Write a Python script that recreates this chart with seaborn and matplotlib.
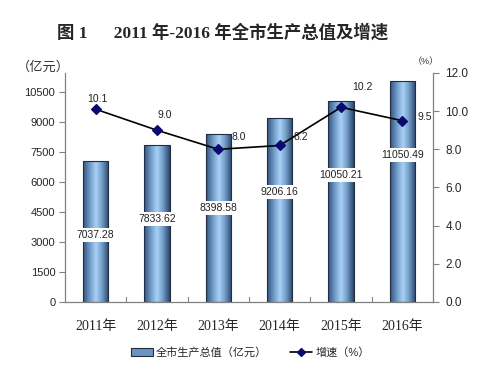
import numpy as np
import pandas as pd
import matplotlib
matplotlib.use('Agg')
import matplotlib.pyplot as plt
import seaborn as sns
from matplotlib.colors import LinearSegmentedColormap
from matplotlib.patches import Patch
from matplotlib.lines import Line2D

years = ['2011年', '2012年', '2013年', '2014年', '2015年', '2016年']
gdp = [7037.28, 7833.62, 8398.58, 9206.16, 10050.21, 11050.49]
growth = [10.1, 9.0, 8.0, 8.2, 10.2, 9.5]
left_ticks = [0, 1500, 3000, 4500, 6000, 7500, 9000, 10500]
right_ticks = [0.0, 2.0, 4.0, 6.0, 8.0, 10.0, 12.0]

# label offsets in pixels (dx, dy) for the growth labels
growth_offsets = [(2, 10), (8, 15), (20, 12), (21, 8), (21, 20), (22, 4)]

sns.set_style('white')
plt.rcParams['font.family'] = ['Liberation Sans', 'Noto Sans CJK SC']

df = pd.DataFrame({'year': years, 'gdp': gdp, 'growth': growth})

fig = plt.figure(figsize=(5.0, 3.83), dpi=100)
ax = fig.add_axes([0.13, 0.2115, 0.736, 0.598])

sns.barplot(data=df, x='year', y='gdp', ax=ax, width=0.41,
            color='#6d94bf', edgecolor='#1f2d45', linewidth=0.8, zorder=2)

# horizontal gradient in each bar
grad_cmap = LinearSegmentedColormap.from_list(
    'bar', ['#34557d', '#6e97c4', '#a9d2f7', '#6f98c4', '#2b4668'])
grad = np.linspace(0, 1, 64).reshape(1, -1)
for p in ax.patches:
    x0, y0 = p.get_x(), p.get_y()
    w, h = p.get_width(), p.get_height()
    im = ax.imshow(grad, cmap=grad_cmap, aspect='auto',
                   extent=[x0, x0 + w, y0, y0 + h], zorder=2.1)
    im.set_clip_path(p)
    p.set_facecolor('none')
    p.set_zorder(2.2)

ax.set_xlim(-0.5, 5.5)
ax.set_ylim(0, 11450)
ax.set_yticks(left_ticks)
ax.set_yticklabels([str(t) for t in left_ticks], fontsize=8)
ax.set_xlabel('')
ax.set_ylabel('')
ax.set_xticks(range(len(years)))
ax.set_xticklabels(years, fontsize=10, family=['Liberation Serif', 'Noto Sans CJK SC'])
ax.tick_params(axis='x', length=0, pad=13)
ax.tick_params(axis='y', length=4, color='#808080', direction='out', left=True, pad=3)
for b in np.arange(0.5, 5.5, 1.0):
    ax.plot([b, b], [0, 250], color='#808080', lw=0.8, zorder=1)

# bar value labels
for i, v in enumerate(gdp):
    ax.text(i, v - 3700, f'{v:.2f}', ha='center', va='center', fontsize=7.5,
            color='#222222', zorder=5,
            bbox=dict(facecolor='white', edgecolor='none', pad=1.5))

ax2 = ax.twinx()
sns.pointplot(data=df, x='year', y='growth', ax=ax2, color='black',
              markers='D', linewidth=1.2, markersize=5.5, zorder=4)
for line in ax2.lines:
    line.set_markerfacecolor('#0a0a6e')
    line.set_markeredgecolor('#0a0a6e')
ax2.set_ylim(0, 12)
ax2.set_yticks(right_ticks)
ax2.set_yticklabels([f'{t:.1f}' for t in right_ticks], fontsize=8.5)
ax2.set_ylabel('')
ax2.set_xlabel('')
ax2.tick_params(axis='y', length=4, color='#808080', direction='out', right=True, pad=5)
ax2.set_xlim(-0.5, 5.5)

for i, g in enumerate(growth):
    dx, dy = growth_offsets[i]
    ax2.annotate(f'{g:.1f}', (i, g), xytext=(dx * 0.72, dy * 0.72),
                 textcoords='offset points', ha='center', va='center',
                 fontsize=7.5, color='#222222', zorder=5)

for a in (ax, ax2):
    a.spines['top'].set_visible(False)
    for s in ('left', 'right', 'bottom'):
        a.spines[s].set_color('#808080')
        a.spines[s].set_linewidth(0.9)
ax.spines['right'].set_visible(False)
ax2.spines['left'].set_visible(False)
ax2.spines['bottom'].set_visible(False)

fig.text(0.114, 0.913, '图 1      2011 年-2016 年全市生产总值及增速', fontsize=12.5,
         fontweight='bold', family=['Liberation Serif', 'Noto Sans CJK SC'],
         ha='left', va='center')
fig.text(0.034, 0.825, '（亿元）', fontsize=9.5, ha='left', va='center', color='#333333')
fig.text(0.826, 0.838, '（%）', fontsize=6.5, ha='left', va='center', color='#333333')

handles = [Patch(facecolor='#6d94bf', edgecolor='#1f2d45', linewidth=0.8),
           Line2D([0], [0], color='black', lw=1.2, marker='D', markersize=4,
                  markerfacecolor='#0a0a6e', markeredgecolor='#0a0a6e')]
fig.legend(handles, ['全市生产总值（亿元）', '增速（%）'], loc='center',
           bbox_to_anchor=(0.5, 0.08), ncol=2, frameon=False, fontsize=8,
           handlelength=2.0, handleheight=0.7, columnspacing=2.0, handletextpad=0.3)

fig.savefig('out.png', dpi=100)
